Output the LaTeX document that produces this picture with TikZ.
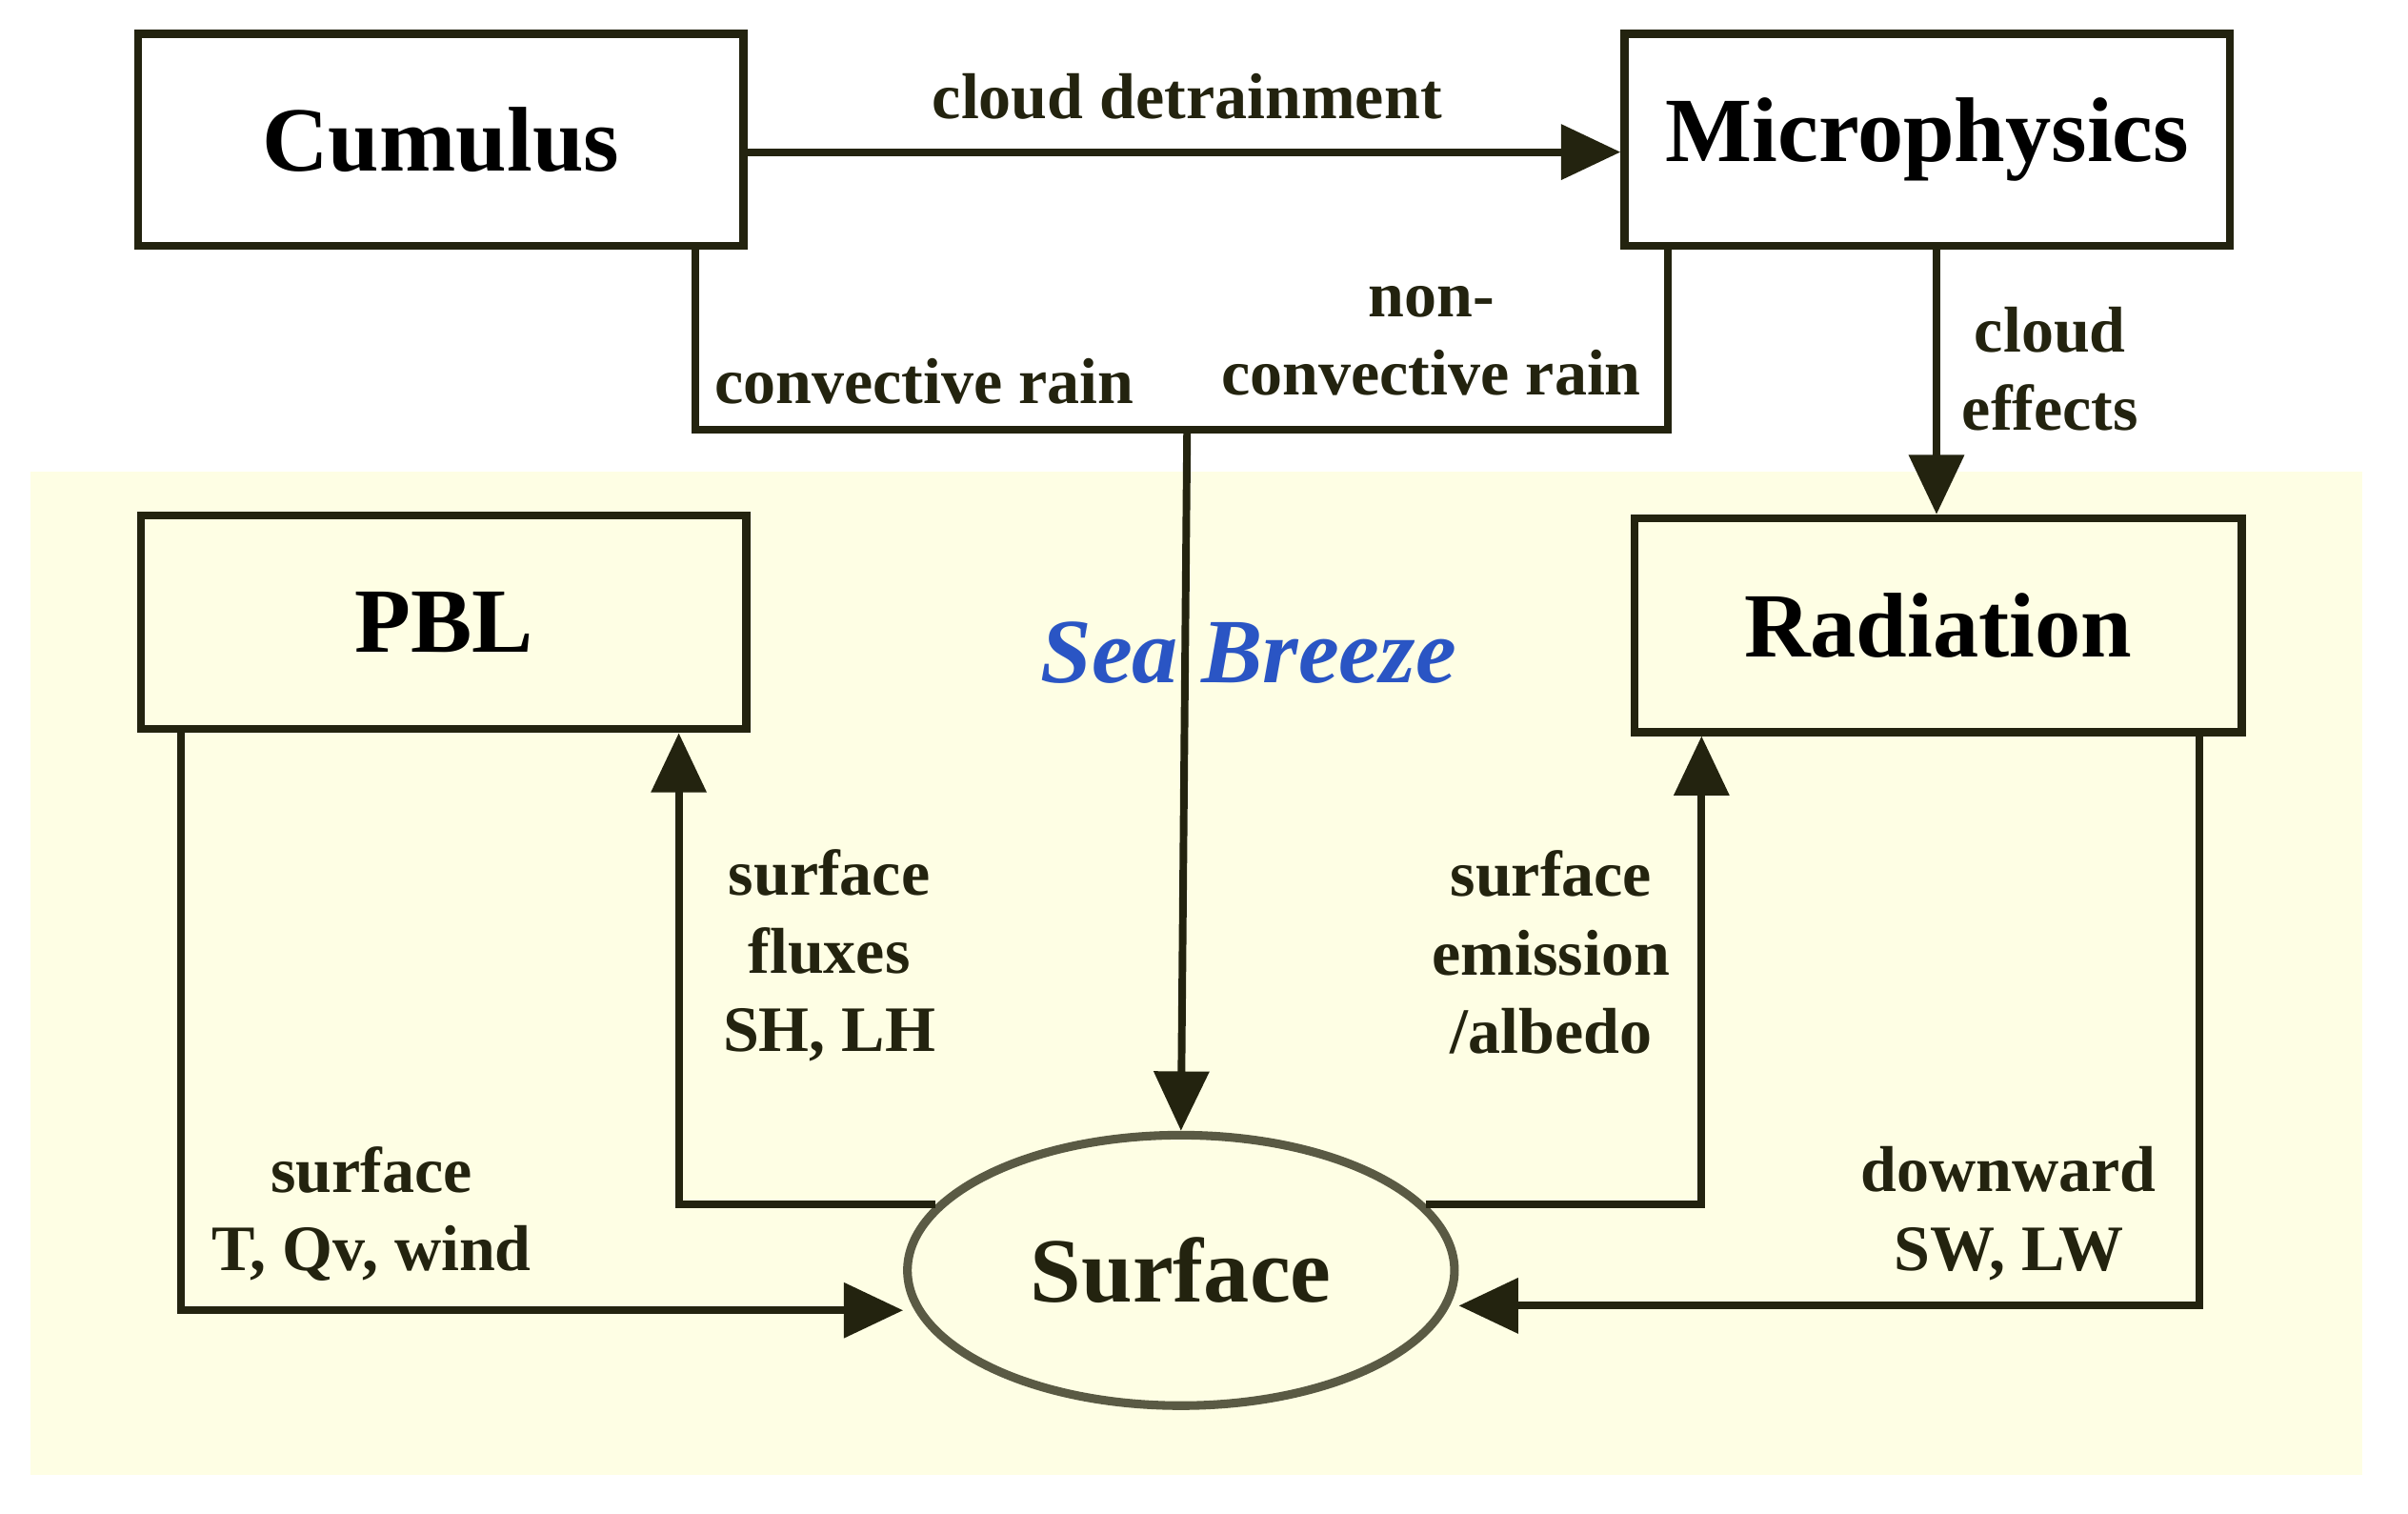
\documentclass[tikz,border=0pt]{standalone}
\usepackage{fontspec}
\setmainfont{Liberation Serif}
\usetikzlibrary{arrows.meta,shapes.geometric}
\definecolor{bgy}{HTML}{FEFEE4}
\definecolor{dk}{HTML}{23230F}
\definecolor{sea}{HTML}{2A55C4}
\begin{document}
\begin{tikzpicture}[x=0.01cm,y=-0.01cm,
 box/.style={draw=dk,line width=1.5pt,inner sep=0pt,font=\bfseries\fontsize{17}{20}\selectfont},
 lab/.style={font=\bfseries\fontsize{12}{14.5}\selectfont,align=center,text=dk},
 ln/.style={draw=dk,line width=1.4pt},
 arr/.style={ln,-{Triangle[length=11pt,width=10pt]}}]
\useasboundingbox (0,0) rectangle (1568,985);
\fill[bgy] (20,307) rectangle (1538,960);
\node[box,fill=white,text width=3.94cm,minimum height=1.38cm,align=center] (cu) at (287,91) {Cumulus};
\node[box,fill=white,text width=3.94cm,minimum height=1.38cm,align=center] (mp) at (1255,91) {Microphysics};
\node[box,fill=bgy,text width=3.94cm,minimum height=1.39cm,align=center] (pbl) at (289,405) {PBL};
\node[box,fill=bgy,text width=3.95cm,minimum height=1.39cm,align=center] (rad) at (1262,407) {Radiation};
\node[draw=dk!75!bgy,line width=1.6pt,ellipse,inner sep=0pt,minimum width=3.56cm,minimum height=1.76cm,font=\bfseries\fontsize{17}{20}\selectfont,text=dk] (sf) at (769,827) {Surface};
\node[font=\bfseries\itshape\fontsize{17}{20}\selectfont,text=sea] (sb) at (813,425) {Sea Breeze};
% cloud detrainment
\draw[arr] (cu.east|-0,99) -- (mp.west|-0,99);
\node[lab] (l1) at (773,63) {cloud detrainment};
% rain
\coordinate (r1) at (453,280); \coordinate (r2) at (1086,280); \coordinate (rm) at (773,280);
\draw[ln] (cu.south-|r1) -- (r1) -- (r2) -- (mp.south-|r2);
\draw[arr] (rm) -- (sf.north);
\node[lab] (l2) at (602,248) {convective rain};
\node[lab] (l3) at (932,222) {non-\\convective rain};
% cloud effects
\draw[arr] (mp.south-|1261,0) -- (rad.north-|1261,0);
\node[lab] (l4) at (1335,240) {cloud\\effects};
% PBL -> surface
\coordinate (a1) at (118,853);
\draw[arr] (pbl.south-|a1) -- (a1) -- (sf.west|-a1);
\node[lab] (l5) at (242,790) {surface\\T, Qv, wind};
% surface -> PBL
\coordinate (a2) at (442,783);
\draw[arr] (sf.165) -- (sf.165-|a2) -- (pbl.south-|a2);
\node[lab] (l6) at (540,622) {surface\\fluxes\\SH, LH};
% surface -> radiation
\coordinate (a3) at (1108,786);
\draw[arr] (sf.15) -- (sf.15-|a3) -- (rad.south-|a3);
\node[lab] (l7) at (1010,620) {surface\\emission\\/albedo};
% radiation -> surface
\coordinate (a4) at (1432,850);
\draw[arr] (rad.south-|a4) -- (a4) -- (sf.east|-a4);
\node[lab] (l8) at (1308,790) {downward\\SW, LW};
\end{tikzpicture}
\end{document}
